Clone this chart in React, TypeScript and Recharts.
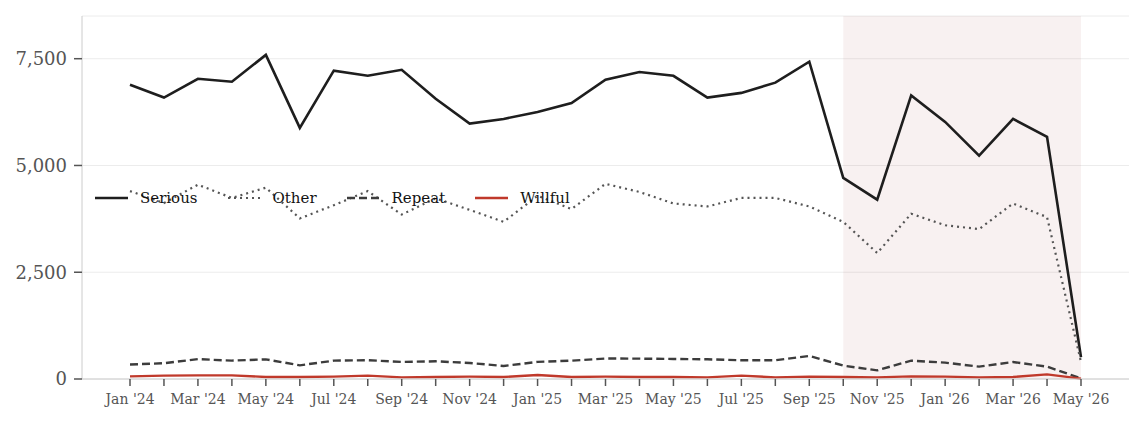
import React from "react";
import {
  LineChart,
  Line,
  XAxis,
  YAxis,
  CartesianGrid,
  ReferenceArea,
  Legend,
} from "recharts";

const months = [
  "Jan '24", "Feb '24", "Mar '24", "Apr '24", "May '24", "Jun '24", "Jul '24", "Aug '24",
  "Sep '24", "Oct '24", "Nov '24", "Dec '24", "Jan '25", "Feb '25", "Mar '25", "Apr '25",
  "May '25", "Jun '25", "Jul '25", "Aug '25", "Sep '25", "Oct '25", "Nov '25", "Dec '25",
  "Jan '26", "Feb '26", "Mar '26", "Apr '26", "May '26",
];

const serious = [6890, 6590, 7030, 6960, 7590, 5880, 7220, 7100, 7240, 6560, 5980, 6090, 6250, 6460, 7010, 7190, 7100, 6590, 6700, 6940, 7430, 4710, 4200, 6640, 6020, 5230, 6090, 5670, 510];
const other = [4400, 4120, 4550, 4240, 4480, 3760, 4070, 4400, 3850, 4230, 3960, 3680, 4290, 3980, 4570, 4380, 4110, 4040, 4240, 4240, 4040, 3680, 2950, 3870, 3600, 3510, 4110, 3790, 400];
const repeat = [340, 370, 465, 430, 460, 320, 430, 440, 400, 414, 375, 305, 400, 430, 480, 477, 469, 461, 440, 440, 540, 313, 203, 430, 383, 289, 398, 289, 16];
const willful = [62, 80, 86, 86, 47, 47, 55, 78, 39, 47, 55, 47, 94, 47, 55, 47, 47, 39, 78, 39, 55, 47, 39, 62, 55, 39, 47, 109, 8];

const yTicks = [0, 2500, 5000, 7500];
const shadeStart = "Oct '25";
const shadeEnd = "May '26";

const data = months.map((m, i) => ({
  month: m,
  Serious: serious[i],
  Other: other[i],
  Repeat: repeat[i],
  Willful: willful[i],
}));

const FONT = "'DejaVu Serif', serif";

const seriesStyles = [
  { key: "Serious", color: "#1e1e1e", width: 2.6, dash: undefined as string | undefined },
  { key: "Other", color: "#555555", width: 2.2, dash: "2 4" },
  { key: "Repeat", color: "#3c3c3c", width: 2.4, dash: "8 4" },
  { key: "Willful", color: "#c0392b", width: 2.4, dash: undefined as string | undefined },
];

const XTick = (props: any) => {
  const { x, y, payload, index } = props;
  if (index % 2 !== 0) return null;
  return (
    <text x={x} y={y} dy="0.71em" textAnchor="middle" fill="#555" fontSize={14} fontFamily={FONT}>
      {payload.value}
    </text>
  );
};

const LegendContent = () => (
  <div style={{ display: "flex", alignItems: "center", fontFamily: FONT, fontSize: 15, color: "#111" }}>
    {seriesStyles.map((s) => (
      <div key={s.key} style={{ display: "flex", alignItems: "center", marginRight: 30 }}>
        <svg width={33} height={10} style={{ marginRight: 12 }}>
          <line x1={0} y1={5} x2={33} y2={5} stroke={s.color} strokeWidth={s.width} strokeDasharray={s.dash} />
        </svg>
        <span>{s.key}</span>
      </div>
    ))}
  </div>
);

export default function App() {
  return (
    <div style={{ width: 1130, height: 410, position: "relative" }}>
      <LineChart
        width={1130}
        height={410}
        data={data}
        margin={{ top: 8, right: 9, left: 0, bottom: 9 }}
      >
        <CartesianGrid vertical={false} stroke="#ececec" strokeWidth={1} />
        <ReferenceArea
          x1={shadeStart}
          x2={shadeEnd}
          fill="#9b2c2c"
          fillOpacity={0.065}
          stroke="none"
          ifOverflow="visible"
        />
        <XAxis
          dataKey="month"
          interval={0}
          padding={{ left: 48, right: 48 }}
          tick={<XTick />}
          tickSize={7}
          tickMargin={8}
          height={30}
          axisLine={{ stroke: "#cccccc" }}
          tickLine={{ stroke: "#555555", strokeWidth: 1.5 }}
        />
        <YAxis
          domain={[0, 8500]}
          ticks={yTicks}
          width={74}
          tickSize={8}
          tickMargin={7}
          tickFormatter={(v: number) => v.toLocaleString("en-US")}
          tick={{ fill: "#555", fontSize: 18, fontFamily: FONT }}
          axisLine={{ stroke: "#cccccc" }}
          tickLine={{ stroke: "#555555", strokeWidth: 1.5 }}
        />
        <Legend
          verticalAlign="middle"
          align="center"
          layout="horizontal"
          content={<LegendContent />}
          wrapperStyle={{ top: 181, left: 87, width: "auto" }}
        />
        {seriesStyles.map((s) => (
          <Line
            key={s.key}
            type="linear"
            dataKey={s.key}
            stroke={s.color}
            strokeWidth={s.width}
            strokeDasharray={s.dash}
            dot={false}
            activeDot={false}
            isAnimationActive={false}
          />
        ))}
      </LineChart>
    </div>
  );
}
